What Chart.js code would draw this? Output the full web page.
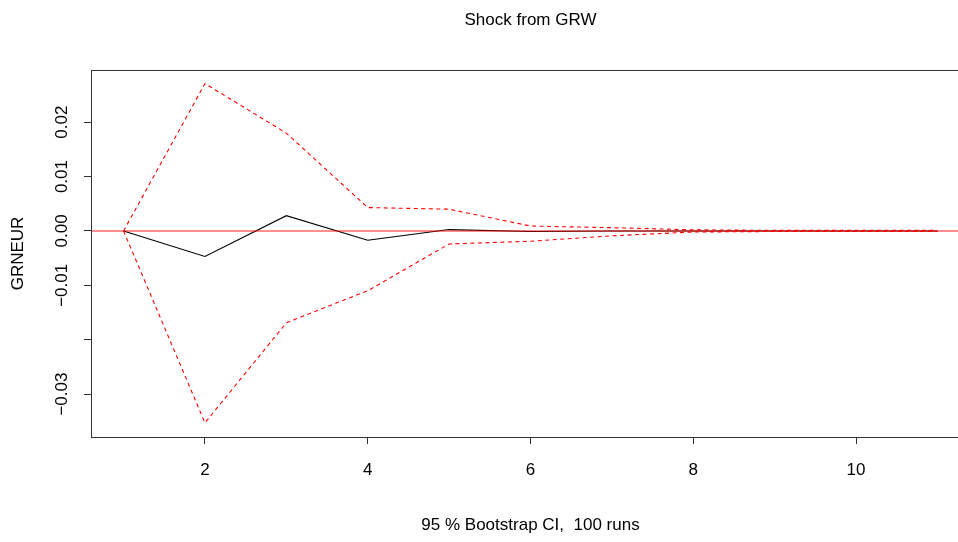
<!DOCTYPE html>
<html>
<head>
<meta charset="utf-8">
<script src="https://cdn.jsdelivr.net/npm/chart.js@4"></script>
<style>
  html, body { margin: 0; padding: 0; background: #fff; }
  #wrap { width: 958px; height: 542px; overflow: hidden; }
</style>
</head>
<body>
<div id="wrap"><canvas id="irfChart" width="971" height="542"></canvas></div>
<script>
// impulse response horizon and bootstrap bands
const horizon = [1, 2, 3, 4, 5, 6, 7, 8, 9, 10, 11];
const irf   = [0, -0.0047, 0.0028, -0.0017, 0.00025, -0.0001, 0.0000, 0.0000, 0.0000, 0.0000, 0.0000];
const upper = [0, 0.0271, 0.0180, 0.0043, 0.0040, 0.0009, 0.0006, 0.0002, 0.0001, 0.0001, 0.0001];
const lower = [0, -0.0353, -0.0169, -0.0110, -0.0024, -0.0019, -0.0009, -0.0002, -0.0001, -0.0001, -0.0001];
const xTicks = [2, 4, 6, 8, 10];
const yTicks = [-0.03, -0.02, -0.01, 0, 0.01, 0.02];

const pts = (ys) => horizon.map((x, i) => ({ x: x, y: ys[i] }));
const baseFont = { family: "'Liberation Sans', Arial, sans-serif", size: 17 };

// frame around the plot region
const boxPlugin = {
  id: 'box',
  afterDraw(chart) {
    const { ctx, chartArea: a } = chart;
    ctx.save();
    ctx.strokeStyle = '#333';
    ctx.lineWidth = 1;
    ctx.strokeRect(Math.round(a.left) + 0.5, Math.round(a.top) + 0.5,
      Math.round(a.right - a.left), Math.round(a.bottom - a.top));
    ctx.restore();
  }
};

new Chart(document.getElementById('irfChart'), {
  type: 'line',
  data: {
    datasets: [
      {
        label: 'GRNEUR',
        data: pts(irf),
        borderColor: '#000',
        borderWidth: 1.1,
        pointRadius: 0,
        tension: 0,
        order: 3
      },
      {
        label: 'zero',
        data: [{ x: 0.6, y: 0 }, { x: 11.4, y: 0 }],
        borderColor: 'rgba(245, 0, 0, 0.6)',
        borderWidth: 1.5,
        pointRadius: 0,
        order: 2
      },
      {
        label: 'Upper',
        data: pts(upper),
        borderColor: '#ff0000',
        borderWidth: 1.1,
        borderDash: [4, 3.5],
        pointRadius: 0,
        tension: 0,
        order: 1
      },
      {
        label: 'Lower',
        data: pts(lower),
        borderColor: '#ff0000',
        borderWidth: 1.1,
        borderDash: [4, 3.5],
        pointRadius: 0,
        tension: 0,
        order: 1
      }
    ]
  },
  options: {
    responsive: false,
    animation: false,
    devicePixelRatio: 1,
    layout: { padding: { left: 0, right: 1, top: 0, bottom: 0 } },
    plugins: {
      legend: { display: false },
      tooltip: { enabled: false },
      title: {
        display: true,
        fullSize: false,
        text: 'Shock from GRW',
        color: '#000',
        font: { ...baseFont, weight: 'normal' },
        padding: { top: 9.8, bottom: 39.8 }
      }
    },
    scales: {
      x: {
        type: 'linear',
        min: 0.6,
        max: 11.4,
        afterBuildTicks: (scale) => { scale.ticks = xTicks.map(v => ({ value: v })); },
        afterFit: (scale) => { scale.height = 105; },
        grid: { drawOnChartArea: false, drawTicks: true, tickLength: 7, color: '#333' },
        border: { display: true, color: '#333' },
        ticks: { color: '#000', font: baseFont, padding: 16, maxRotation: 0 },
        title: {
          display: true,
          text: '95 % Bootstrap CI,  100 runs',
          color: '#000',
          font: baseFont,
          padding: { top: 0, bottom: 6.8 }
        }
      },
      y: {
        type: 'linear',
        min: -0.0379,
        max: 0.0296,
        afterBuildTicks: (scale) => { scale.ticks = yTicks.map(v => ({ value: v })); },
        afterFit: (scale) => { scale.width = 91; },
        grid: { drawOnChartArea: false, drawTicks: true, tickLength: 7, color: '#333' },
        border: { display: true, color: '#333' },
        ticks: {
          color: '#000',
          font: baseFont,
          minRotation: 90,
          maxRotation: 90,
          crossAlign: 'center',
          padding: 0,
          callback: (v) => {
            if (Math.abs(v + 0.02) < 1e-9) return '';
            return (v < 0 ? '\u2212' : '') + Math.abs(v).toFixed(2);
          }
        },
        title: {
          display: true,
          text: 'GRNEUR',
          color: '#000',
          font: baseFont,
          padding: { top: 7.8, bottom: 0 }
        }
      }
    }
  },
  plugins: [boxPlugin]
});
</script>
</body>
</html>
